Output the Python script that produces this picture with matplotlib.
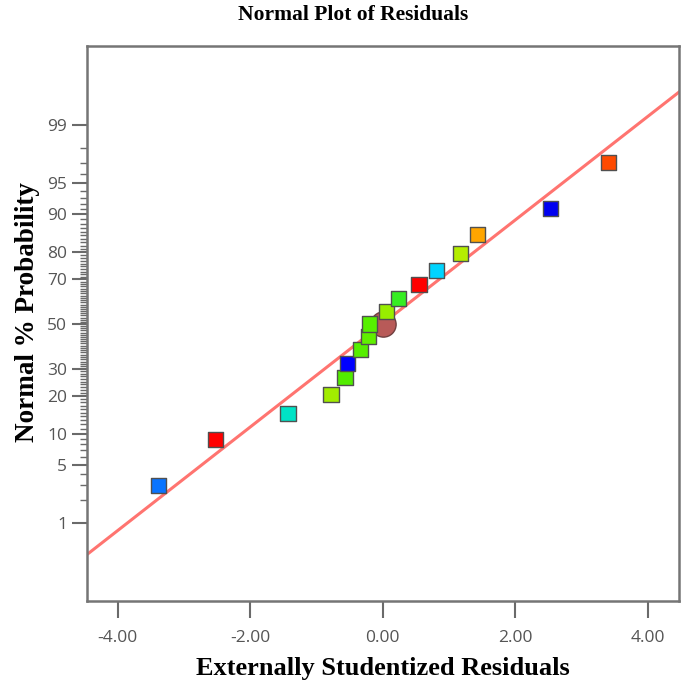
import numpy as np
import matplotlib.pyplot as plt
from statistics import NormalDist

# residuals, with their normal % probability
resid = [-3.38, -2.53, -1.43, -0.78, -0.57, -0.53, -0.33, -0.21, -0.20,
         0.06, 0.24, 0.55, 0.81, 1.17, 1.43, 2.54, 3.41]
prob = [2.94, 8.82, 14.71, 20.59, 26.47, 32.35, 38.24, 44.12, 50.0,
        55.88, 61.76, 67.65, 73.53, 79.41, 85.29, 91.18, 97.06]
colors = ['#0a74ff', '#ff0000', '#00e3c6', '#a2ec00', '#52ec00', '#0000ff',
          '#56ee00', '#60f000', '#56f000', '#98ee00', '#36ee22', '#ff0000',
          '#00d4ff', '#b4ee00', '#ffa500', '#0000f0', '#ff4a00']
center_pt = (0.0, 50.0)

# fitted reference line, in z units: z = slope * x + intercept
line_slope = 0.605
line_intercept = 0.005

major_p = [1, 5, 10, 20, 30, 50, 70, 80, 90, 95, 99]
minor_p = [p for p in range(1, 100) if p not in major_p]
xticks = [-4, -2, 0, 2, 4]

nd = NormalDist()


def p2z(p):
    p = np.clip(np.asarray(p, dtype=float), 1e-6, 100 - 1e-6)
    return np.vectorize(lambda v: nd.inv_cdf(v / 100.0))(p) if p.ndim else nd.inv_cdf(float(p) / 100.0)


def z2p(z):
    z = np.asarray(z, dtype=float)
    return np.vectorize(lambda v: nd.cdf(v) * 100.0)(z) if z.ndim else nd.cdf(float(z)) * 100.0


fig = plt.figure(figsize=(6.85, 6.88), dpi=100)
ax = fig.add_axes([0.1266, 0.1265, 0.8651, 0.8071])
ax.set_yscale('function', functions=(p2z, z2p))

xlim = (-4.47, 4.48)
xs = np.array(xlim)
ax.plot(xs, z2p(line_slope * xs + line_intercept), color='#ff7470', lw=2.2, zorder=2)

ax.scatter([center_pt[0]], [center_pt[1]], s=330, marker='o', color='#b85a58',
           edgecolors='#704040', linewidths=1.0, zorder=3)
ax.scatter(resid, prob, s=120, marker='s', c=colors, edgecolors='#505050',
           linewidths=1.0, zorder=4)

ax.set_xlim(*xlim)
ax.set_ylim(z2p(-3.24), z2p(3.255))

ax.set_xticks(xticks)
ax.set_xticklabels(['%.2f' % v for v in xticks])
ax.set_yticks(major_p)
ax.set_yticklabels([str(p) for p in major_p])
ax.set_yticks(minor_p, minor=True)
ax.yaxis.set_minor_formatter(plt.NullFormatter())

for lab in ax.get_xticklabels() + ax.get_yticklabels():
    lab.set_fontfamily('Open Sans')
    lab.set_fontsize(12.5)
    lab.set_color('#555555')

ax.tick_params(axis='x', which='major', length=12, width=1.5, color='#6a6a6a', pad=9)
ax.tick_params(axis='y', which='major', length=11, width=1.5, color='#6a6a6a', pad=3)
ax.tick_params(axis='y', which='minor', length=5, width=1.0, color='#6a6a6a')

for sp in ax.spines.values():
    sp.set_color('#757575')
    sp.set_linewidth(1.8)

ax.set_xlabel('Externally Studentized Residuals', family='Liberation Serif',
              fontweight='bold', fontsize=19, labelpad=8)
fig.text(0.04, 0.547, 'Normal % Probability', family='Liberation Serif',
         fontweight='bold', fontsize=19.5, rotation=90, ha='center', va='center')
fig.text(0.515, 0.978, 'Normal Plot of Residuals', family='Liberation Serif',
         fontweight='bold', fontsize=15.5, ha='center', va='center')

fig.savefig('out.png', dpi=100)
